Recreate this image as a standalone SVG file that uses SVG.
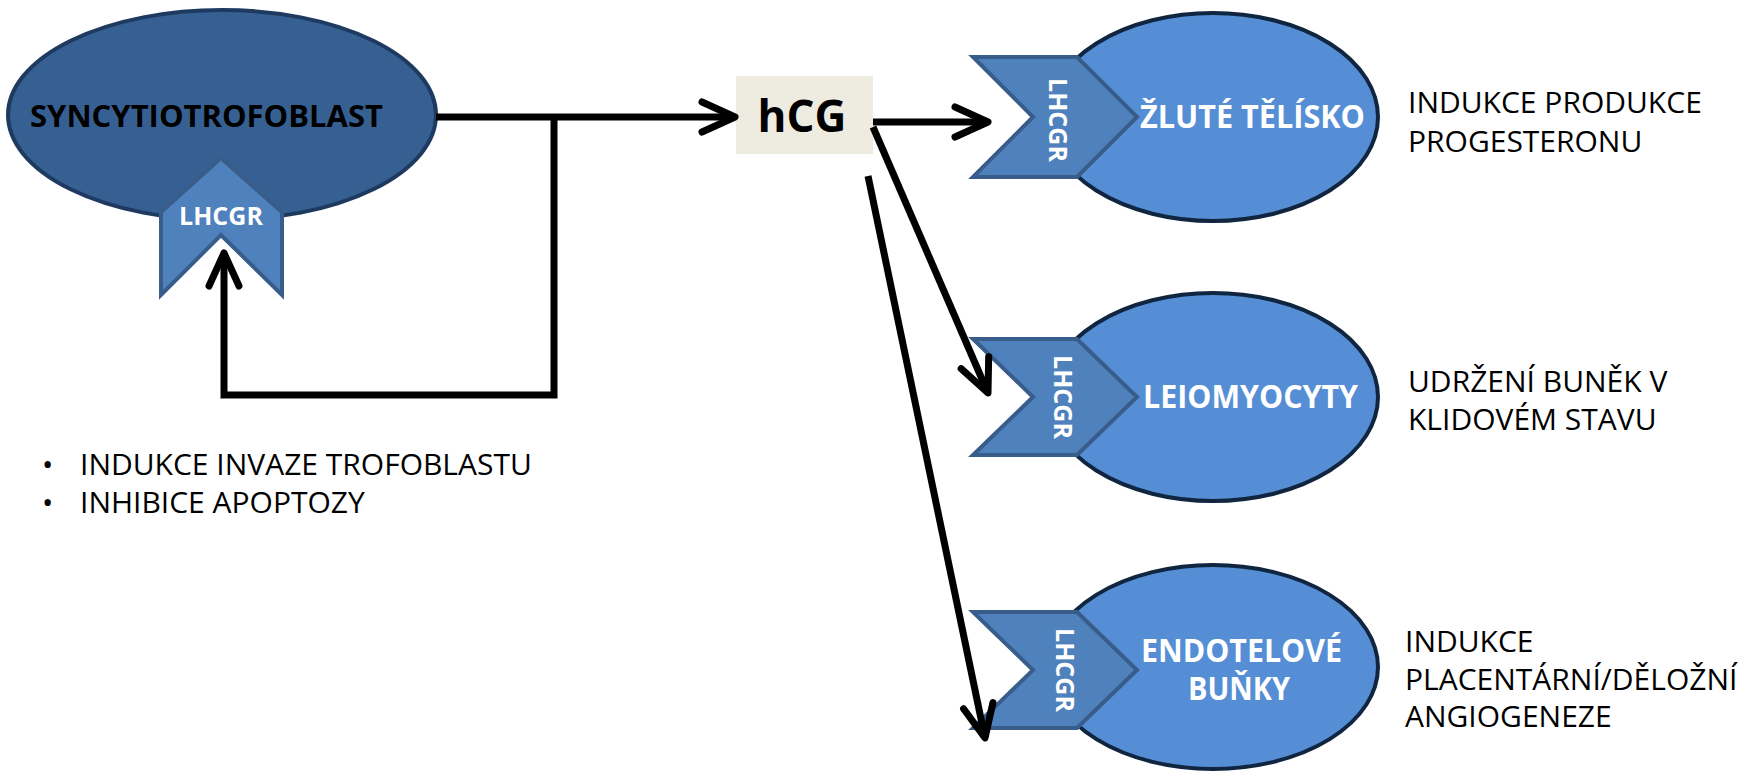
<svg xmlns="http://www.w3.org/2000/svg" width="1749" height="778" viewBox="0 0 1749 778">
<style>
  .t { font-family: "Open Sans", "Noto Sans", "DejaVu Sans", sans-serif; }
  .b { font-weight: bold; }
  .white { fill: #ffffff; }
  .dark { fill: #000000; }
  .plain { font-size: 30px; fill: #000000; }
  .cell { fill: #558ed5; stroke: #10253f; stroke-width: 4; }
  .syn { fill: #376092; stroke: #1f3a60; stroke-width: 4; }
  .rec { fill: #4f81bd; stroke: #385d8a; stroke-width: 4; stroke-linejoin: miter; }
  .con { fill: none; stroke: #000000; stroke-width: 7; }
</style>
<defs>
  <marker id="arr" markerUnits="userSpaceOnUse" viewBox="-40 -22 46 44" refX="0" refY="0" markerWidth="46" markerHeight="44" orient="auto" overflow="visible">
    <path d="M-33,-15 L0,0 L-33,15" fill="none" stroke="#000" stroke-width="7" stroke-linecap="round" stroke-linejoin="round"/>
  </marker>
</defs>
<rect width="1749" height="778" fill="#ffffff"/>

<g id="syncytiotrofoblast">
  <ellipse class="syn" cx="222" cy="115" rx="214" ry="105"/>
  <text class="t b dark" x="30" y="127" font-size="30" textLength="353" lengthAdjust="spacingAndGlyphs">SYNCYTIOTROFOBLAST</text>
  <polygon class="rec" points="161,212 221,158 282,212 282,295 221,235 161,295"/>
  <text class="t b white" x="221" y="225" font-size="25" text-anchor="middle">LHCGR</text>
</g>

<g id="hcg">
  <rect x="736" y="76" width="137" height="78" fill="#eeece1"/>
  <text class="t b dark" x="802" y="132" font-size="44" text-anchor="middle">hCG</text>
</g>

<g id="zlute-telisko">
  <ellipse class="cell" cx="1213" cy="117" rx="165" ry="104"/>
  <polygon class="rec" points="973,57 1077,57 1137,117 1077,177 973,177 1033,117"/>
  <text class="t b white" font-size="25" text-anchor="middle" transform="translate(1049,120) rotate(90)">LHCGR</text>
  <text class="t b white" x="1140" y="128" font-size="33" textLength="225" lengthAdjust="spacingAndGlyphs">ŽLUTÉ TĚLÍSKO</text>
</g>

<g id="leiomyocyty">
  <ellipse class="cell" cx="1213" cy="397" rx="165" ry="104"/>
  <polygon class="rec" points="973,339 1077,339 1137,397 1077,455 973,455 1033,397"/>
  <text class="t b white" font-size="25" text-anchor="middle" transform="translate(1054,397) rotate(90)">LHCGR</text>
  <text class="t b white" x="1143" y="408" font-size="33" textLength="215" lengthAdjust="spacingAndGlyphs">LEIOMYOCYTY</text>
</g>

<g id="endotelove-bunky">
  <ellipse class="cell" cx="1213" cy="667" rx="165" ry="102"/>
  <polygon class="rec" points="973,612 1077,612 1137,670 1077,728 973,728 1033,670"/>
  <text class="t b white" font-size="25" text-anchor="middle" transform="translate(1056,670) rotate(90)">LHCGR</text>
  <text class="t b white" x="1141" y="662" font-size="33" textLength="201" lengthAdjust="spacingAndGlyphs">ENDOTELOVÉ</text>
  <text class="t b white" x="1188" y="700" font-size="33" textLength="102" lengthAdjust="spacingAndGlyphs">BUŇKY</text>
</g>

<g id="effects">
  <text class="t plain" x="1408" y="113">INDUKCE PRODUKCE</text>
  <text class="t plain" x="1408" y="152">PROGESTERONU</text>
  <text class="t plain" x="1408" y="392">UDRŽENÍ BUNĚK V</text>
  <text class="t plain" x="1408" y="430">KLIDOVÉM STAVU</text>
  <text class="t plain" x="1405" y="652">INDUKCE</text>
  <text class="t plain" x="1405" y="690">PLACENTÁRNÍ/DĚLOŽNÍ</text>
  <text class="t plain" x="1405" y="727">ANGIOGENEZE</text>
</g>

<g id="syncytio-effects">
  <text class="t plain" x="42" y="475">•</text>
  <text class="t plain" x="80" y="475">INDUKCE INVAZE TROFOBLASTU</text>
  <text class="t plain" x="42" y="513">•</text>
  <text class="t plain" x="80" y="513">INHIBICE APOPTOZY</text>
</g>

<g id="connectors">
  <line class="con" x1="436" y1="117" x2="735" y2="117" marker-end="url(#arr)"/>
  <polyline class="con" points="554,117 554,395 224,395 224,253" marker-end="url(#arr)"/>
  <line class="con" x1="873" y1="122" x2="988" y2="122" marker-end="url(#arr)"/>
  <line class="con" x1="873" y1="127" x2="988" y2="393" marker-end="url(#arr)"/>
  <line class="con" x1="868" y1="176" x2="985" y2="738" marker-end="url(#arr)"/>
</g>
</svg>
